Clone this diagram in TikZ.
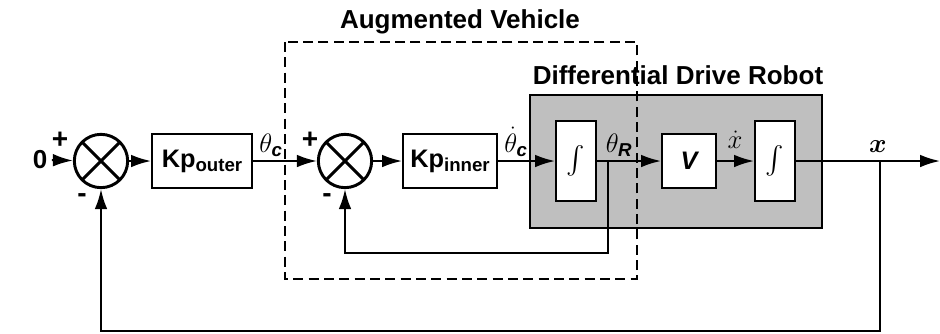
\RequirePackage{fix-cm}
\documentclass[tikz,border=0pt]{standalone}
\usepackage{amsmath}
\usepackage{fontspec}
\setmainfont{Liberation Sans}
\usetikzlibrary{arrows.meta}

\tikzset{
  block/.style={draw, fill=white, line width=1.5pt, inner sep=0pt,
    font=\bfseries\fontsize{19}{21}\selectfont},
  sumnode/.style={draw, circle, line width=2.2pt, minimum size=40pt, inner sep=0pt,
    path picture={\draw[line width=2.2pt]
      (path picture bounding box.north west) -- (path picture bounding box.south east)
      (path picture bounding box.north east) -- (path picture bounding box.south west);}},
  sig/.style={line width=1.5pt, -{Latex[length=15pt,width=9.5pt]}},
  lbl/.style={anchor=base, font=\fontsize{20}{22}\selectfont},
  sign/.style={font=\bfseries\fontsize{21}{23}\selectfont},
  title/.style={font=\bfseries\fontsize{19.5}{22}\selectfont},
}
\newcommand{\subtxt}[1]{\raisebox{-0.3ex}{\fontsize{14}{15}\selectfont #1}}
\newcommand{\intg}{\fontsize{21}{23}\selectfont$\int$}

\begin{document}
\begin{tikzpicture}[x=0.75pt, y=-0.75pt]
    \useasboundingbox (0,0) rectangle (940,333);

    % frames
    \draw[line width=1.5pt, fill=black!25] (530,95) rectangle (822,228);
    \draw[line width=1pt, dash pattern=on 7.5pt off 4pt] (285,42) rectangle (637,279);
    \node[title] (avtitle) at (460,22) {Augmented Vehicle};
    \node[title] (ddtitle) at (678,75) {Differential Drive Robot};

    % blocks
    \node[title] (in) at (40,160) {0};
    \node[sumnode] (sum1) at (101,161) {};
    \node[block, minimum width=75pt, minimum height=40pt] (kpo) at (202,161) {Kp\subtxt{outer}};
    \node[sumnode] (sum2) at (345,161) {};
    \node[block, minimum width=70.5pt, minimum height=41pt] (kpi) at (450,161) {Kp\subtxt{inner}};
    \node[block, minimum width=30pt, minimum height=60pt] (int1) at (576,161) {\intg};
    \node[block, minimum width=40.5pt, minimum height=40.5pt] (vel) at (689,161) {\itshape V};
    \node[block, minimum width=30pt, minimum height=60pt] (int2) at (775,161) {\intg};
    \coordinate (out) at (940,161);
    \coordinate (br1) at (608,161);
    \coordinate (br2) at (880,161);

    % signs
    \node[sign] (p1) at (60,140) {+};
    \node[sign] (m1) at (82,198) {-};
    \node[sign] (p2) at (310,140) {+};
    \node[sign] (m2) at (327,198) {-};

    % forward path
    \draw[sig] (in) -- (sum1);
    \draw[sig] (sum1) -- (kpo);
    \draw[sig] (kpo) -- (sum2);
    \draw[sig] (sum2) -- (kpi);
    \draw[sig] (kpi) -- (int1);
    \draw[sig] (int1) -- (vel);
    \draw[sig] (vel) -- (int2);
    \draw[sig] (int2) -- (out);

    % feedback
    \draw[sig] (br1) -- ++(0,92) -| (sum2.south);
    \draw[sig] (br2) -- ++(0,170) -| (sum1.south);

    % signal labels
    \node[lbl] (thc) at (271,152) {$\theta_{\textbf{\textit{c}}}$};
    \node[lbl] (thcd) at (516,152) {$\dot\theta_{\textbf{\textit{c}}}$};
    \node[lbl] (thr) at (619,152) {$\theta_{\textbf{\textit{R}}}$};
    \node[lbl] (xd) at (735,148) {$\dot x$};
    \node[lbl] (xo) at (878,152) {$\boldsymbol{x}$};
\end{tikzpicture}
\end{document}
